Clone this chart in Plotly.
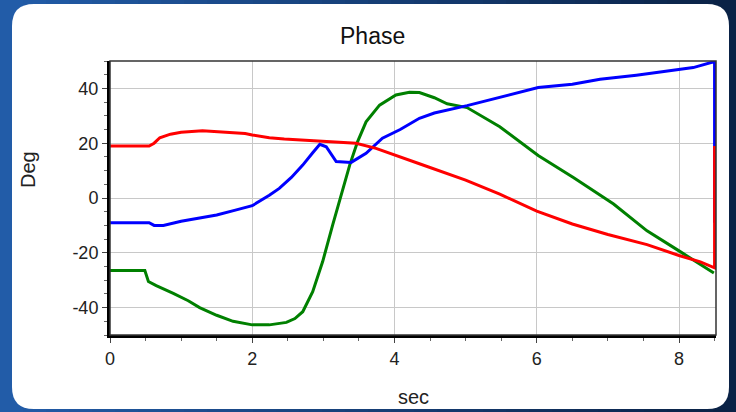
import plotly.graph_objects as go

# ---- data ----
red_t = [0, 0.55, 0.62, 0.7, 0.85, 1.0, 1.3, 1.6, 1.9, 2.0, 2.24, 2.45, 2.85, 3.1, 3.46, 3.74, 4.0, 4.35, 5.0, 5.48, 6.0, 6.5, 7.0, 7.55, 8.0, 8.3, 8.5, 8.5]
red_v = [19, 19, 20, 22, 23.3, 24, 24.5, 24, 23.5, 23, 22, 21.5, 20.8, 20.5, 20, 18.1, 15.6, 12.5, 6.5, 1.4, -4.8, -9.5, -13.3, -17, -21, -23.3, -25.5, 19]

blue_t = [0, 0.55, 0.62, 0.75, 1.0, 1.26, 1.5, 1.75, 2.0, 2.24, 2.38, 2.55, 2.71, 2.85, 2.95, 3.04, 3.18, 3.39, 3.6, 3.83, 4.08, 4.35, 4.56, 5.02, 5.5, 6.02, 6.5, 6.89, 7.4, 7.83, 8.2, 8.5, 8.5]
blue_v = [-9, -9, -10, -10, -8.5, -7.2, -6.2, -4.5, -2.8, 1, 3.5, 7.5, 12, 16.5, 19.6, 18.7, 13.3, 13, 16.3, 21.8, 25, 29.1, 31, 33.7, 37, 40.3, 41.5, 43.3, 44.8, 46.3, 47.6, 49.8, -9]

green_t = [0, 0.49, 0.54, 0.65, 0.89, 1.1, 1.26, 1.5, 1.73, 2.0, 2.24, 2.48, 2.6, 2.71, 2.85, 2.99, 3.13, 3.25, 3.37, 3.48, 3.6, 3.79, 4.02, 4.21, 4.35, 4.56, 4.74, 5.02, 5.48, 6.02, 6.52, 7.08, 7.55, 8.0, 8.49]
green_v = [-26.5, -26.5, -30.5, -32, -34.8, -37.5, -40, -42.8, -45, -46.3, -46.3, -45.4, -44, -41.5, -34.2, -23.2, -9.9, 1.1, 12, 20.5, 27.8, 33.9, 37.6, 38.6, 38.5, 36.6, 34.4, 33, 26, 15.5, 7.4, -2.2, -12, -19.3, -27.4]

x_ticks = [0, 2, 4, 6, 8]
y_ticks = [-40, -20, 0, 20, 40]

# ---- geometry (pixels) ----
W, H = 736, 412
L, R, T, B = 110, 716, 61, 335
PW, PH = R - L, B - T


def px(x):
    return (x - L) / PW


def py(y):
    return (B - y) / PH


fig = go.Figure()
fig.add_trace(go.Scatter(x=green_t, y=green_v, mode="lines", line=dict(color="#008000", width=3), showlegend=False, hoverinfo="skip"))
fig.add_trace(go.Scatter(x=blue_t, y=blue_v, mode="lines", line=dict(color="#0000ff", width=3), showlegend=False, hoverinfo="skip"))
fig.add_trace(go.Scatter(x=red_t, y=red_v, mode="lines", line=dict(color="#ff0000", width=3), showlegend=False, hoverinfo="skip"))

shapes = []
# background gradient strips (blue -> navy)
n = 32
c0 = (0x22, 0x5c, 0xa8)
c1 = (0x0a, 0x22, 0x46)
for i in range(n):
    f = i / (n - 1)
    c = tuple(int(round(c0[k] + (c1[k] - c0[k]) * f)) for k in range(3))
    x0 = W * i / n
    x1 = W * (i + 1) / n + 1
    shapes.append(dict(type="rect", xref="paper", yref="paper", layer="below",
                       x0=px(x0), x1=px(x1), y0=py(H + 2), y1=py(-2),
                       fillcolor="rgb(%d,%d,%d)" % c, line=dict(width=0)))

# white rounded panel
pl, pr, pt, pb, rr = 12, 729, 4, 409, 22
path = (
    f"M {px(pl + rr)},{py(pt)} L {px(pr - rr)},{py(pt)} "
    f"Q {px(pr)},{py(pt)} {px(pr)},{py(pt + rr)} "
    f"L {px(pr)},{py(pb - rr)} Q {px(pr)},{py(pb)} {px(pr - rr)},{py(pb)} "
    f"L {px(pl + rr)},{py(pb)} Q {px(pl)},{py(pb)} {px(pl)},{py(pb - rr)} "
    f"L {px(pl)},{py(pt + rr)} Q {px(pl)},{py(pt)} {px(pl + rr)},{py(pt)} Z"
)
shapes.append(dict(type="path", xref="paper", yref="paper", layer="below", path=path,
                   fillcolor="white", line=dict(width=0)))
# thin frame for top/right
shapes.append(dict(type="rect", xref="paper", yref="paper", layer="above",
                   x0=0, x1=1, y0=0, y1=1, line=dict(color="#333333", width=1.5)))

annotations = [
    dict(text="Phase", x=px(372), y=py(36), xref="paper", yref="paper",
         xanchor="center", yanchor="middle", showarrow=False,
         font=dict(size=23, color="#111111")),
    dict(text="Deg", x=px(28), y=py(170), xref="paper", yref="paper",
         xanchor="center", yanchor="middle", showarrow=False, textangle=-90,
         font=dict(size=20, color="#222222")),
    dict(text="sec", x=px(413), y=py(397), xref="paper", yref="paper",
         xanchor="center", yanchor="middle", showarrow=False,
         font=dict(size=20, color="#222222")),
]

fig.update_layout(
    width=W, height=H,
    margin=dict(l=L, r=W - R, t=T, b=H - B),
    paper_bgcolor="#163f78",
    plot_bgcolor="white",
    shapes=shapes,
    annotations=annotations,
    font=dict(family="Arial, Liberation Sans, sans-serif", color="#222222"),
)
fig.update_xaxes(
    range=[0, 8.52], tickvals=x_ticks, ticktext=[str(v) for v in x_ticks],
    showgrid=True, gridcolor="#c8c8c8", gridwidth=1, zeroline=False,
    showline=True, linecolor="black", linewidth=3, mirror=False,
    ticks="outside", ticklen=5, tickwidth=1, tickcolor="#444444",
    minor=dict(dtick=0.5, ticks="outside", ticklen=3, tickcolor="#666666", showgrid=False),
    tickfont=dict(size=18),
)
fig.update_yaxes(
    range=[-50, 50], tickvals=y_ticks, ticktext=[str(v) for v in y_ticks],
    showgrid=True, gridcolor="#c8c8c8", gridwidth=1, zeroline=False,
    showline=True, linecolor="black", linewidth=3, mirror=False,
    ticks="outside", ticklen=5, tickwidth=1, tickcolor="#444444",
    minor=dict(dtick=5, ticks="outside", ticklen=3, tickcolor="#666666", showgrid=False),
    tickfont=dict(size=18),
)

fig.write_html("out.html", config={"displayModeBar": False},
               post_script="document.body.style.margin='0';document.body.style.overflow='hidden';")
